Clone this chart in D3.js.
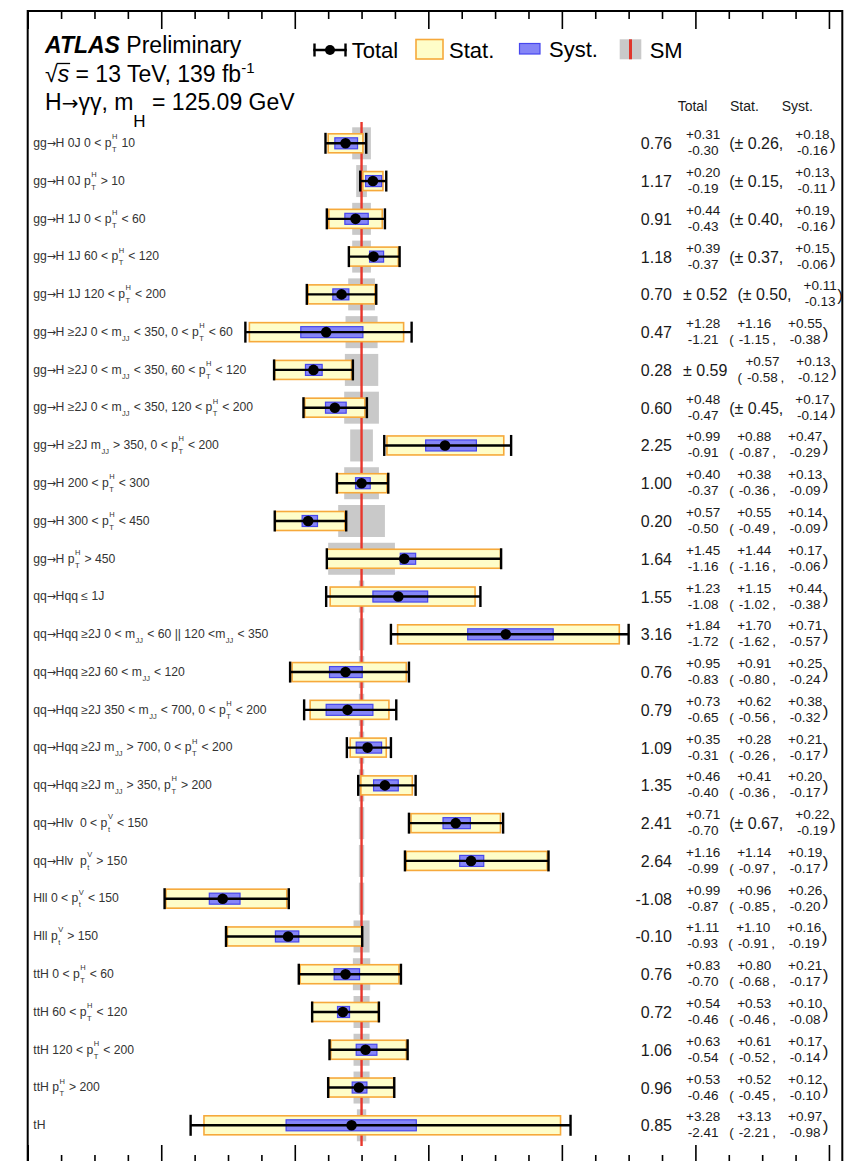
<!DOCTYPE html>
<html><head><meta charset="utf-8">
<script src="https://cdn.jsdelivr.net/npm/d3@7"></script>
<style>body{margin:0;background:#fff}svg{display:block}</style>
</head><body>
<svg id="c" width="846" height="1161"></svg>
<script>
// ---------------- data ----------------
const rowLabels = [
 "gg→H 0J 0 < p{H|T} 10",
 "gg→H 0J p{H|T} > 10",
 "gg→H 1J 0 < p{H|T} < 60",
 "gg→H 1J 60 < p{H|T} < 120",
 "gg→H 1J 120 < p{H|T} < 200",
 "gg→H ≥2J 0 < m{|JJ} < 350, 0 < p{H|T} < 60",
 "gg→H ≥2J 0 < m{|JJ} < 350, 60 < p{H|T} < 120",
 "gg→H ≥2J 0 < m{|JJ} < 350, 120 < p{H|T} < 200",
 "gg→H ≥2J m{|JJ} > 350, 0 < p{H|T} < 200",
 "gg→H 200 < p{H|T} < 300",
 "gg→H 300 < p{H|T} < 450",
 "gg→H p{H|T} > 450",
 "qq→Hqq ≤ 1J",
 "qq→Hqq ≥2J 0 < m{|JJ} < 60 || 120 <m{|JJ} < 350",
 "qq→Hqq ≥2J 60 < m{|JJ} < 120",
 "qq→Hqq ≥2J 350 < m{|JJ} < 700, 0 < p{H|T} < 200",
 "qq→Hqq ≥2J m{|JJ} > 700, 0 < p{H|T} < 200",
 "qq→Hqq ≥2J m{|JJ} > 350, p{H|T} > 200",
 "qq→Hlv  0 < p{V|t} < 150",
 "qq→Hlv  p{V|t} > 150",
 "Hll 0 < p{V|t} < 150",
 "Hll p{V|t} > 150",
 "ttH 0 < p{H|T} < 60",
 "ttH 60 < p{H|T} < 120",
 "ttH 120 < p{H|T} < 200",
 "ttH p{H|T} > 200",
 "tH"
];
const muValues = [0.76,1.17,0.91,1.18,0.70,0.47,0.28,0.60,2.25,1.00,0.20,1.64,1.55,3.16,0.76,0.79,1.09,1.35,2.41,2.64,-1.08,-0.10,0.76,0.72,1.06,0.96,0.85];
const totalUp   = [0.31,0.20,0.44,0.39,0.52,1.28,0.59,0.48,0.99,0.40,0.57,1.45,1.23,1.84,0.95,0.73,0.35,0.46,0.71,1.16,0.99,1.11,0.83,0.54,0.63,0.53,3.28];
const totalDown = [0.30,0.19,0.43,0.37,0.52,1.21,0.59,0.47,0.91,0.37,0.50,1.16,1.08,1.72,0.83,0.65,0.31,0.40,0.70,0.99,0.87,0.93,0.70,0.46,0.54,0.46,2.41];
const statUp    = [0.26,0.15,0.40,0.37,0.50,1.16,0.57,0.45,0.88,0.38,0.55,1.44,1.15,1.70,0.91,0.62,0.28,0.41,0.67,1.14,0.96,1.10,0.80,0.53,0.61,0.52,3.13];
const statDown  = [0.26,0.15,0.40,0.37,0.50,1.15,0.58,0.45,0.87,0.36,0.49,1.16,1.02,1.62,0.80,0.56,0.26,0.36,0.67,0.97,0.85,0.91,0.68,0.46,0.52,0.45,2.21];
const systUp    = [0.18,0.13,0.19,0.15,0.11,0.55,0.13,0.17,0.47,0.13,0.14,0.17,0.44,0.71,0.25,0.38,0.21,0.20,0.22,0.19,0.26,0.16,0.21,0.10,0.17,0.12,0.97];
const systDown  = [0.16,0.11,0.16,0.06,0.13,0.38,0.12,0.14,0.29,0.09,0.09,0.06,0.38,0.57,0.24,0.32,0.17,0.17,0.19,0.17,0.20,0.19,0.17,0.08,0.14,0.10,0.98];
const smUncert  = [0.14,0.08,0.14,0.14,0.20,0.24,0.25,0.26,0.17,0.26,0.35,0.50,0.04,0.04,0.04,0.04,0.04,0.04,0.04,0.04,0.04,0.12,0.13,0.12,0.12,0.12,0.07];
const smValue = 1;
const majorTicks = [-4,-2,0,2,4,6,8];
const minorTicks = d3.range(-4, 8.01, 0.5);
const colHeaders = ["Total","Stat.","Syst."];

// ---------------- setup ----------------
const FONT = "'Liberation Sans', Arial, Helvetica, sans-serif";
const ARROWFONT = "'DejaVu Sans', sans-serif";
const svg = d3.select("#c");
const L = 27.7, R = 842.3, T = 11, B = 1163;
const x = d3.scaleLinear().domain([-4, 8.2]).range([L, R]);
const y = d3.scalePoint().domain(d3.range(rowLabels.length)).range([143.3, 1125.3]);
const fmt = v => d3.format(".2f")(v).replace("−", "-");

svg.append("defs").append("clipPath").attr("id", "frameClip")
  .append("rect").attr("x", L).attr("y", T).attr("width", R - L).attr("height", B - T);

// SM grey bands
svg.append("g").selectAll("rect").data(smUncert).join("rect")
  .attr("x", d => x(smValue - d)).attr("width", d => x(smValue + d) - x(smValue - d))
  .attr("y", (d,i) => y(i) - 16).attr("height", 32).attr("fill", "#c9c9c9");

// SM red line
svg.append("line").attr("x1", x(smValue)).attr("x2", x(smValue))
  .attr("y1", 122).attr("y2", 1146).attr("stroke", "#e8372c").attr("stroke-width", 2.4);

const rows = d3.range(rowLabels.length);
// stat boxes
svg.append("g").selectAll("rect").data(rows).join("rect")
  .attr("x", i => x(muValues[i] - statDown[i])).attr("width", i => x(muValues[i] + statUp[i]) - x(muValues[i] - statDown[i]))
  .attr("y", i => y(i) - 9.5).attr("height", 19)
  .attr("fill", "#fefdc9").attr("stroke", "#f6a93b").attr("stroke-width", 1.6);
// syst boxes
svg.append("g").selectAll("rect").data(rows).join("rect")
  .attr("x", i => x(muValues[i] - systDown[i])).attr("width", i => x(muValues[i] + systUp[i]) - x(muValues[i] - systDown[i]))
  .attr("y", i => y(i) - 5.5).attr("height", 11)
  .attr("fill", "#8585f7").attr("stroke", "#4747ee").attr("stroke-width", 1.2);
// total error bars
const eb = svg.append("g").attr("stroke", "#000").attr("stroke-width", 2.4);
eb.selectAll("line.h").data(rows).join("line").attr("class","h")
  .attr("x1", i => x(muValues[i] - totalDown[i])).attr("x2", i => x(muValues[i] + totalUp[i]))
  .attr("y1", i => y(i)).attr("y2", i => y(i));
eb.selectAll("line.l").data(rows).join("line").attr("class","l")
  .attr("x1", i => x(muValues[i] - totalDown[i])).attr("x2", i => x(muValues[i] - totalDown[i]))
  .attr("y1", i => y(i) - 10.5).attr("y2", i => y(i) + 10.5);
eb.selectAll("line.r").data(rows).join("line").attr("class","r")
  .attr("x1", i => x(muValues[i] + totalUp[i])).attr("x2", i => x(muValues[i] + totalUp[i]))
  .attr("y1", i => y(i) - 10.5).attr("y2", i => y(i) + 10.5);
svg.append("g").selectAll("circle").data(rows).join("circle")
  .attr("cx", i => x(muValues[i])).attr("cy", i => y(i)).attr("r", 5.3).attr("fill", "#000");

// axes ticks (top and bottom)
function ticks(sel, vals, len, gen) {
  sel.call(gen(x).tickValues(vals).tickSize(len).tickFormat(""))
     .call(g => g.select(".domain").remove())
     .call(g => g.selectAll("line").attr("stroke", "#000").attr("stroke-width", 1.6));
}
ticks(svg.append("g").attr("transform", `translate(0,${T})`), minorTicks.filter(v => v % 2 !== 0), 8, d3.axisBottom);
ticks(svg.append("g").attr("transform", `translate(0,${T})`), majorTicks, 18, d3.axisBottom);
ticks(svg.append("g").attr("transform", `translate(0,${B})`), minorTicks.filter(v => v % 2 !== 0), 8, d3.axisTop);
ticks(svg.append("g").attr("transform", `translate(0,${B})`), majorTicks, 18, d3.axisTop);

// ---------------- row labels ----------------
const LABFONT = "'Liberation Sans Narrow', 'Liberation Sans', Arial, sans-serif";
const LABSIZE = 12.2;
const labG = svg.append("g").attr("fill", "#333").attr("font-family", LABFONT);
rowLabels.forEach((lab, i) => {
  const cy = y(i);
  let cx = 33.3;
  const re = /\{([^|}]*)\|([^}]*)\}/g;
  let last = 0, m;
  const parts = [];
  const pushText = s => {
    s.split(/(→)/).forEach(q => { if (q) parts.push(q === "→" ? {arrow: true} : {t: q}); });
  };
  while ((m = re.exec(lab)) !== null) {
    pushText(lab.slice(last, m.index));
    parts.push({sup: m[1], sub: m[2]});
    last = re.lastIndex;
  }
  pushText(lab.slice(last));
  parts.forEach(p => {
    if (p.arrow) {
      const t = labG.append("text").attr("x", cx).attr("y", cy + 3.8)
        .attr("font-family", ARROWFONT).attr("font-size", 11).text("→");
      cx += t.node().getComputedTextLength() - 0.5;
    } else if (p.t !== undefined) {
      const t = labG.append("text").attr("x", cx).attr("y", cy + 3.8)
        .attr("font-size", LABSIZE).style("white-space", "pre").text(p.t);
      cx += t.node().getComputedTextLength();
    } else {
      let w = 0;
      if (p.sup) {
        const s = labG.append("text").attr("x", cx + 0.5).attr("y", cy - 4).attr("font-size", 7.5).text(p.sup);
        w = Math.max(w, s.node().getComputedTextLength());
      }
      if (p.sub) {
        const s = labG.append("text").attr("x", cx + 0.5).attr("y", cy + 8.8).attr("font-size", 7.5).text(p.sub);
        w = Math.max(w, s.node().getComputedTextLength());
      }
      cx += w + 1.2;
    }
  });
});

// ---------------- right-hand numbers ----------------
const numG = svg.append("g").attr("fill", "#1a1a1a").attr("font-family", FONT).attr("clip-path", "url(#frameClip)");
colHeaders.forEach((h, k) => {
  numG.append("text").attr("x", [677.7, 730, 781.7][k]).attr("y", 111).attr("font-size", 14).text(h);
});
function txt(xx, yy, size, s, anchor) {
  const t = numG.append("text").attr("x", xx).attr("y", yy).attr("font-size", size)
    .attr("text-anchor", anchor || "start").style("white-space", "pre").text(s);
  return t.node().getComputedTextLength();
}
const SM = 13.5;
function stacked(xx, cy, up, dn) {
  const a = "+" + fmt(up), b = "-" + fmt(dn);
  const tmp = numG.append("text").attr("font-size", SM).text(a);
  const wa = tmp.node().getComputedTextLength(); tmp.remove();
  const tmp2 = numG.append("text").attr("font-size", SM).text(b);
  const wb = tmp2.node().getComputedTextLength(); tmp2.remove();
  const w = Math.max(wa, wb);
  txt(xx + w / 2, cy - 4, SM, a, "middle");
  txt(xx + w / 2, cy + 12, SM, b, "middle");
  return w;
}
rows.forEach(i => {
  const cy = y(i);
  txt(672, cy + 6, 16, fmt(muValues[i]), "end");
  let cur;
  if (totalUp[i] === totalDown[i]) {
    cur = 683;
    cur += txt(cur, cy + 6, 16, "± " + fmt(totalUp[i])) + 10;
  } else {
    cur = 686;
    cur += stacked(cur, cy, totalUp[i], totalDown[i]) + 9;
  }
  if (statUp[i] === statDown[i]) {
    cur += txt(cur, cy + 6, 16, "(± " + fmt(statUp[i]) + ",") + 12;
  } else {
    txt(cur, cy + 12, SM, "(");
    cur += 8;
    cur += stacked(cur, cy, statUp[i], statDown[i]);
    cur += txt(cur + 1, cy + 12, SM, ",") + 13;
  }
  cur += stacked(cur, cy, systUp[i], systDown[i]);
  txt(cur + 0.5, cy + 7, 17, ")");
});

// frame
svg.append("rect").attr("x", L).attr("y", T).attr("width", R - L).attr("height", B - T)
  .attr("fill", "none").attr("stroke", "#000").attr("stroke-width", 2);

// ---------------- header ----------------
const hd = svg.append("g").attr("fill", "#000").attr("font-family", FONT);
const t1 = hd.append("text").attr("x", 45).attr("y", 53.3).attr("font-size", 23);
t1.append("tspan").attr("font-weight", "bold").attr("font-style", "italic").text("ATLAS");
t1.append("tspan").text(" Preliminary");
const t2 = hd.append("text").attr("x", 45).attr("y", 81.7).attr("font-size", 23);
t2.append("tspan").text("√");
const sT = t2.append("tspan").attr("font-style", "italic").text("s");
t2.append("tspan").text(" = 13 TeV, 139 fb");
t2.append("tspan").attr("font-size", 15).attr("dy", -9).text("-1");
{
  const ext = sT.node().getStartPositionOfChar(0).x;
  const w = sT.node().getComputedTextLength();
  hd.append("line").attr("x1", ext - 1).attr("x2", ext + w + 1).attr("y1", 63.5).attr("y2", 63.5)
    .attr("stroke", "#000").attr("stroke-width", 1.3);
}
const t3 = hd.append("text").attr("x", 45).attr("y", 110).attr("font-size", 23);
t3.append("tspan").text("H");
t3.append("tspan").attr("font-family", ARROWFONT).attr("font-size", 20).text("→");
t3.append("tspan").text("γγ, m");
t3.append("tspan").attr("font-size", 17).attr("dy", 17).text("H");
t3.append("tspan").attr("dy", -17).text(" = 125.09 GeV");

// ---------------- legend ----------------
const lg = svg.append("g").attr("font-family", FONT).attr("font-size", 22).attr("fill", "#000");
lg.append("line").attr("x1", 313.3).attr("x2", 346.7).attr("y1", 50).attr("y2", 50).attr("stroke", "#000").attr("stroke-width", 2.4);
lg.append("line").attr("x1", 314.5).attr("x2", 314.5).attr("y1", 43.5).attr("y2", 56.5).attr("stroke", "#000").attr("stroke-width", 2.4);
lg.append("line").attr("x1", 345.5).attr("x2", 345.5).attr("y1", 43.5).attr("y2", 56.5).attr("stroke", "#000").attr("stroke-width", 2.4);
lg.append("circle").attr("cx", 330).attr("cy", 50).attr("r", 5).attr("fill", "#000");
lg.append("text").attr("x", 351.7).attr("y", 58.3).text("Total");
lg.append("rect").attr("x", 416).attr("y", 39.5).attr("width", 27).attr("height", 19.5)
  .attr("fill", "#fefdc9").attr("stroke", "#f6a93b").attr("stroke-width", 1.6);
lg.append("text").attr("x", 449).attr("y", 58.3).text("Stat.");
lg.append("rect").attr("x", 519.5).attr("y", 43.5).attr("width", 20.5).attr("height", 10.5)
  .attr("fill", "#8585f7").attr("stroke", "#4747ee").attr("stroke-width", 1.2);
lg.append("text").attr("x", 549).attr("y", 57).text("Syst.");
lg.append("rect").attr("x", 619.7).attr("y", 39.3).attr("width", 21.6).attr("height", 20).attr("fill", "#c9c9c9");
lg.append("line").attr("x1", 630.5).attr("x2", 630.5).attr("y1", 39.3).attr("y2", 59.3).attr("stroke", "#e0352b").attr("stroke-width", 3);
lg.append("text").attr("x", 649.7).attr("y", 58.3).text("SM");
</script>
</body></html>
